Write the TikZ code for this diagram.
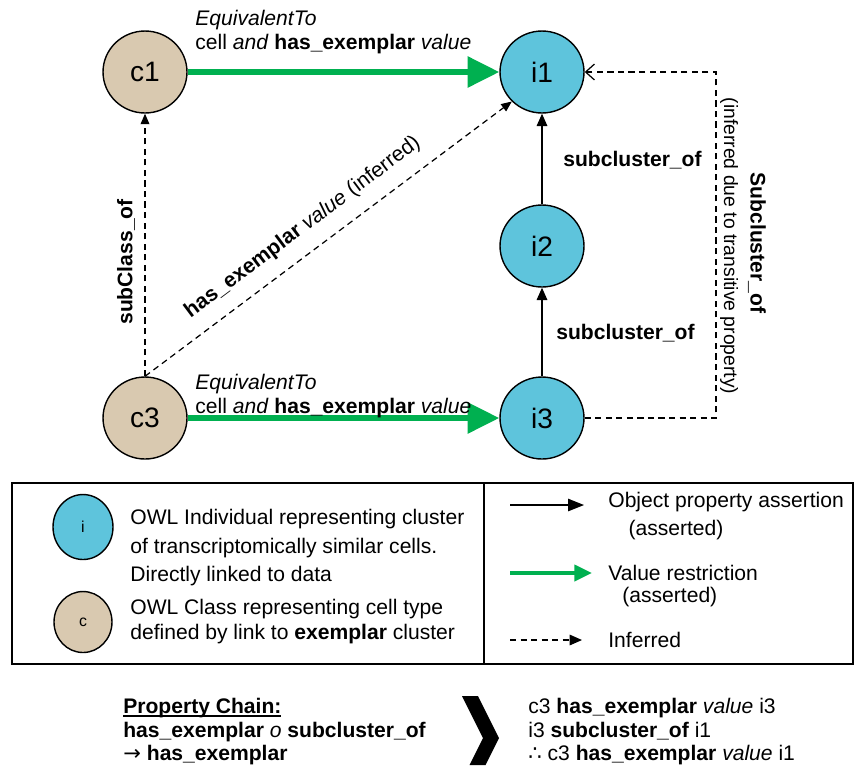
\documentclass[tikz,border=0pt]{standalone}
\usepackage{fontspec}
\setmainfont{Liberation Sans}
\newfontfamily\symfont{DejaVu Sans}
\usetikzlibrary{arrows.meta,shapes.geometric,positioning}

\definecolor{indivblue}{RGB}{94,196,220}
\definecolor{classtan}{RGB}{217,201,176}
\definecolor{valgreen}{RGB}{0,176,80}

% underline that sits just under the baseline
\newcommand\chainul[1]{\setbox0\hbox{#1}\rlap{\rule[-1.7pt]{\wd0}{0.8pt}}\box0}

\tikzset{
  indiv/.style={ellipse,draw,line width=0.8pt,fill=indivblue,inner sep=0pt,
    minimum width=1.68cm,minimum height=1.64cm,font=\fontsize{16}{19}\selectfont},
  cls/.style={indiv,fill=classtan},
  valarrow/.style={valgreen,line width=3.4pt,-{Triangle[length=18pt,width=17pt]}},
  objarrow/.style={line width=0.8pt,-{Triangle[length=7pt,width=6pt]}},
  infarrow/.style={line width=0.7pt,dash pattern=on 3.5pt off 2.5pt,
    -{Triangle[length=6pt,width=5pt]}},
  txt/.style={font=\fontsize{12}{13.7}\selectfont,inner sep=0pt},
}

\begin{document}
\begin{tikzpicture}[x=0.02cm,y=-0.02cm]
\useasboundingbox (0,0) rectangle (854,765);

\node (c1) [cls] at (145,72) {c1};
\node (i1) [indiv] at (542,72) {i1};
\node (i2) [indiv] at (542,246) {i2};
\node (i3) [indiv] at (542,418) {i3};
\node (c3) [cls] at (145,418) {c3};

% value restrictions
\draw[valarrow] (c1) -- (i1);
\draw[valarrow] (c3) -- (i3);
\node (eqtop) [txt,anchor=north west,align=left] at (195,10) {\textit{EquivalentTo}\\
  cell \textit{and} \textbf{has\_exemplar} \textit{value}};
\node (eqbot) [txt,anchor=north west,align=left] at (195,374) {\textit{EquivalentTo}\\
  cell \textit{and} \textbf{has\_exemplar} \textit{value}};

% asserted chain
\draw[objarrow] (i3) -- (i2);
\draw[objarrow] (i2) -- (i1);
\node (subup) [txt,anchor=west] at (563,160) {\textbf{subcluster\_of}};
\node (sublow) [txt,anchor=west] at (556,333) {\textbf{subcluster\_of}};

% inferred
\draw[infarrow] (c3) -- (c1);
\node (subcls) [txt,rotate=90] at (126,262) {\textbf{subClass\_of}};
\draw[infarrow] (c3.north) -- (i1.south west)
  node (inflbl) [txt,pos=0.47,sloped,above=8pt] {\textbf{has\_exemplar} \textit{value} (inferred)};
\coordinate (rbot) at (716,418);
\coordinate (rtop) at (716,72);
\draw[infarrow,-{Straight Barb[length=5pt,width=9pt]}] (i3) -- (rbot) -- (rtop) -- (i1);
\node (trans) [txt,rotate=-90] at (757,243) {\textbf{Subcluster\_of}};
\node (transnote) [txt,rotate=-90,font=\fontsize{11}{13}\selectfont] at (729,246)
  {(inferred due to transitive property)};

% legend
\draw[line width=0.8pt] (12,483) rectangle (853,664);
\draw[line width=0.8pt] (484,483) -- (484,664);
\node (legi) [indiv,minimum width=1.2cm,minimum height=1.3cm,font=\fontsize{9}{11}\selectfont]
  at (83,527) {i};
\node (legc) [cls,minimum width=1.16cm,minimum height=1.22cm,font=\fontsize{9}{11}\selectfont]
  at (83,622) {c};
\node (legitxt) [txt,anchor=north west,align=left,font=\fontsize{12}{16.2}\selectfont]
  at (130,509) {OWL Individual representing cluster\\of transcriptomically similar cells.\\
  Directly linked to data};
\node (legctxt) [txt,anchor=north west,align=left,font=\fontsize{12}{14.2}\selectfont]
  at (130,599) {OWL Class representing cell type\\defined by link to \textbf{exemplar} cluster};

\coordinate (objs) at (510,505);
\coordinate (obje) at (584,505);
\draw[line width=0.8pt,-{Triangle[length=9pt,width=7pt]}] (objs) -- (obje);
\node (objtxt) [txt,anchor=west] at (608,502) {Object property assertion};
\node (objnote) [txt] at (676,530) {(asserted)};
\coordinate (vals) at (510,573);
\coordinate (vale) at (592,573);
\draw[valgreen,line width=2.3pt,-{Triangle[length=10pt,width=9pt]}] (vals) -- (vale);
\node (valtxt) [txt,anchor=west] at (608,573) {Value restriction};
\node (valnote) [txt,anchor=west] at (622,597) {(asserted)};
\coordinate (infs) at (510,640);
\coordinate (infe) at (582,640);
\draw[infarrow,-{Triangle[length=7pt,width=6pt]}] (infs) -- (infe);
\node (inftxt) [txt,anchor=west] at (608,640) {Inferred};

% property chain
\node (chain) [txt,anchor=north west,align=left,font=\fontsize{12}{13.4}\selectfont]
  at (123,698) {\chainul{\textbf{Property Chain:}}\\
  \textbf{has\_exemplar} \textit{o} \textbf{subcluster\_of}\\
  {\symfont →} \textbf{has\_exemplar}};
\fill (462,696) -- (478,696) -- (499,738) -- (485.5,765) -- (469.5,765) -- (483,738) -- cycle;
\node (concl) [txt,anchor=north west,align=left,font=\fontsize{12}{13.4}\selectfont]
  at (528,698) {c3 \textbf{has\_exemplar} \textit{value} i3\\
  i3 \textbf{subcluster\_of} i1\\
  {\symfont ∴} c3 \textbf{has\_exemplar} \textit{value} i1};
\end{tikzpicture}
\end{document}
